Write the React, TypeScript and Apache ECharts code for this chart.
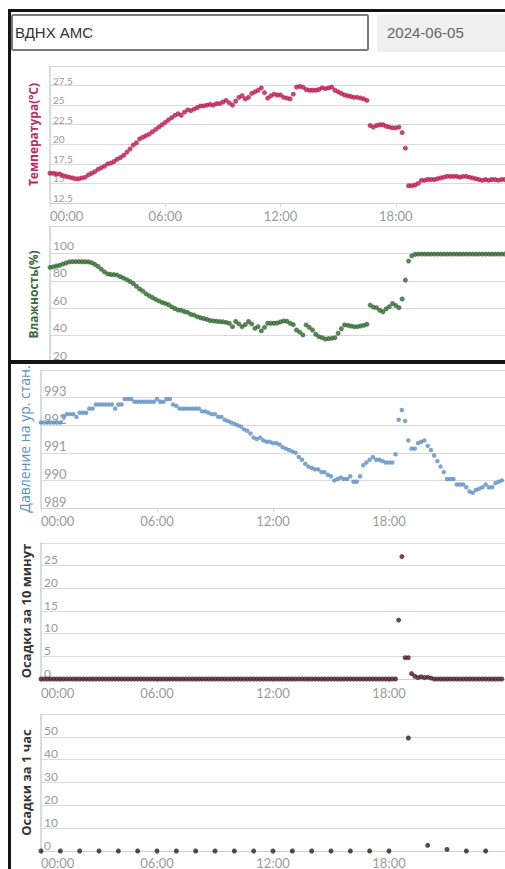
import React, { useEffect, useRef } from "react";
import * as echarts from "echarts";

// ---------- data (10-minute steps, 00:00 .. 23:50) ----------
const timeLabels = ["00:00", "06:00", "12:00", "18:00"];

const temperature = [
  16.3, 16.3, 16.2, 16.2, 16.0, 15.9,
  15.8, 15.7, 15.6, 15.6, 15.7, 15.8,
  16.1, 16.3, 16.5, 16.8, 17.0, 17.2,
  17.5, 17.6, 17.8, 18.1, 18.3, 18.6,
  19.0, 19.4, 19.9, 20.2, 20.7, 20.9,
  21.1, 21.3, 21.6, 21.9, 22.2, 22.5,
  22.8, 23.1, 23.4, 23.7, 23.9, 23.7,
  24.1, 24.4, 24.3, 24.5, 24.7, 24.9,
  24.9, 25.0, 25.1, 25.0, 25.2, 25.2,
  25.4, 25.6, 25.3, 25.0, 25.5, 26.0,
  26.2, 25.8, 26.0, 26.5, 26.7, 26.9,
  27.2, 26.6, 25.9, 26.2, 26.4, 26.3,
  26.3, 26.0, 25.9, 25.8, 26.4, 27.3,
  27.4, 27.3, 27.0, 26.9, 26.9, 26.9,
  27.0, 27.2, 27.1, 27.2, 27.3, 26.9,
  26.7, 26.5, 26.3, 26.2, 26.1, 26.0,
  26.0, 25.9, 25.8, 25.6, 22.4, 22.2,
  22.4, 22.5, 22.5, 22.3, 22.2, 22.1,
  22.1, 22.2, 21.5, 19.5, 14.7, 14.7,
  14.8, 15.0, 15.4, 15.4, 15.5, 15.5,
  15.5, 15.6, 15.7, 15.8, 15.9, 15.9,
  15.9, 15.9, 15.8, 15.9, 15.9, 15.8,
  15.7, 15.6, 15.5, 15.4, 15.5, 15.4,
  15.5, 15.5, 15.4, 15.5, 15.5, 15.5,
];

const humidity = [
  89.8, 90.2, 90.8, 91.3, 92.2, 93.0,
  93.8, 94.0, 94.0, 94.0, 93.9, 93.9,
  93.8, 93.2, 92.0, 90.5, 88.5, 86.5,
  85.0, 84.6, 84.5, 84.2, 83.0, 82.0,
  80.8, 79.5, 78.0, 76.0, 74.0, 72.5,
  70.5, 69.0, 67.8, 66.5, 65.3, 64.2,
  63.5, 62.5, 61.0, 59.8, 58.7, 58.5,
  57.5, 57.0, 55.5, 55.0, 53.8, 53.0,
  52.5, 51.8, 51.0, 50.7, 50.5, 50.2,
  50.0, 49.7, 49.0, 46.5, 50.3, 48.5,
  46.5, 48.0, 50.3, 48.5, 45.3, 46.5,
  43.4, 46.0, 49.0, 49.0, 49.0, 49.2,
  50.0, 50.7, 50.5, 49.0, 48.0, 44.1,
  42.5, 40.5, 47.8, 46.0, 44.1, 41.0,
  39.2, 38.5, 37.5, 37.8, 38.0, 38.5,
  41.7, 45.0, 47.8, 47.5, 47.0, 46.5,
  46.5, 47.0, 47.5, 48.3, 62.3, 60.8,
  60.4, 58.5, 57.4, 59.5, 61.1, 63.5,
  62.0, 60.4, 66.7, 80.5, 94.4, 98.2,
  99.3, 99.5, 99.5, 99.5, 99.5, 99.5,
  99.5, 99.5, 99.5, 99.5, 99.5, 99.5,
  99.5, 99.5, 99.5, 99.5, 99.5, 99.5,
  99.5, 99.5, 99.5, 99.5, 99.5, 99.5,
  99.5, 99.5, 99.5, 99.5, 99.5, 99.5,
];

const pressure = [
  992.1, 992.1, 992.1, 992.1, 992.1, 992.1,
  992.1, 992.3, 992.4, 992.4, 992.4, 992.3,
  992.45, 992.45, 992.45, 992.6, 992.6, 992.75,
  992.75, 992.75, 992.75, 992.75, 992.75, 992.6,
  992.75, 992.75, 992.95, 992.95, 992.95, 992.85,
  992.85, 992.85, 992.85, 992.85, 992.85, 992.85,
  992.95, 992.85, 992.85, 992.95, 992.95, 992.75,
  992.7, 992.6, 992.6, 992.6, 992.6, 992.6,
  992.6, 992.6, 992.5, 992.5, 992.45, 992.4,
  992.4, 992.3, 992.3, 992.2, 992.15, 992.1,
  992.05, 992.0, 991.95, 991.85, 991.8, 991.7,
  991.55, 991.5, 991.55, 991.45, 991.4, 991.4,
  991.35, 991.35, 991.3, 991.2, 991.15, 991.1,
  991.05, 991.0, 990.85, 990.75, 990.6, 990.5,
  990.45, 990.4, 990.4, 990.3, 990.3, 990.2,
  990.15, 990.0, 990.05, 990.1, 990.05, 990.05,
  990.15, 989.95, 989.95, 990.15, 990.55, 990.65,
  990.75, 990.85, 990.75, 990.75, 990.7, 990.65,
  990.65, 990.65, 990.95, 992.2, 992.55, 992.15,
  991.45, 991.15, 991.15, 991.35, 991.4, 991.45,
  991.25, 991.1, 990.9, 990.7, 990.5, 990.3,
  990.05, 990.05, 990.05, 989.85, 989.85, 989.85,
  989.75, 989.6, 989.55, 989.65, 989.7, 989.75,
  989.85, 989.75, 989.75, 989.9, 989.95, 990.0,
];

const precip10 = [
  0, 0, 0, 0, 0, 0,
  0, 0, 0, 0, 0, 0,
  0, 0, 0, 0, 0, 0,
  0, 0, 0, 0, 0, 0,
  0, 0, 0, 0, 0, 0,
  0, 0, 0, 0, 0, 0,
  0, 0, 0, 0, 0, 0,
  0, 0, 0, 0, 0, 0,
  0, 0, 0, 0, 0, 0,
  0, 0, 0, 0, 0, 0,
  0, 0, 0, 0, 0, 0,
  0, 0, 0, 0, 0, 0,
  0, 0, 0, 0, 0, 0,
  0, 0, 0, 0, 0, 0,
  0, 0, 0, 0, 0, 0,
  0, 0, 0, 0, 0, 0,
  0, 0, 0, 0, 0, 0,
  0, 0, 0, 0, 0, 0,
  0, 0, 0, 13, 27, 4.7,
  4.7, 1.2, 0.6, 0.3, 0.5, 0.3,
  0.4, 0.2, 0, 0, 0, 0,
  0, 0, 0, 0, 0, 0,
  0, 0, 0, 0, 0, 0,
  0, 0, 0, 0, 0, 0,
];

// hourly, 00:00 .. 23:00
const precip1h = [
  0, 0, 0, 0, 0, 0, 0, 0, 0, 0, 0, 0,
  0, 0, 0, 0, 0, 0, 0, 49.5, 2.5, 0.7, 0, 0,
];

// ---------- helpers ----------
const LABEL_FONT = "Lato, 'Open Sans', sans-serif";
const NAME_FONT = "'Open Sans', 'Noto Sans', sans-serif";

function xAxis(gridIndex: number, margin: number, showLabels = true, lineHeight?: number) {
  return {
    type: "value",
    gridIndex,
    min: 0,
    max: 24,
    interval: 6,
    axisLine: { show: true, lineStyle: { color: "#cfcfcf", width: 1 } },
    axisTick: { show: true, length: 4, lineStyle: { color: "#d6d6d6" } },
    splitLine: { show: false },
    axisLabel: {
      show: showLabels,
      color: "#9b9b9b",
      fontSize: 13,
      fontFamily: LABEL_FONT,
      lineHeight,
      margin,
      showMaxLabel: false,
      alignMinLabel: "left",
      formatter: (v: number) => timeLabels[Math.round(v / 6)] ?? "",
    },
  };
}

function yAxis(
  gridIndex: number,
  min: number,
  max: number,
  interval: number,
  name: string,
  nameColor: string,
  nameSize: number,
  nameWeight: string,
  nameGap: number,
  labelSize: number,
  labelLift = 0
) {
  return {
    type: "value",
    gridIndex,
    min,
    max,
    interval,
    name,
    nameLocation: "middle",
    nameGap,
    nameTextStyle: {
      color: nameColor,
      fontSize: nameSize,
      fontWeight: nameWeight,
      fontFamily: NAME_FONT,
    },
    axisLine: { show: true, lineStyle: { color: "#c3d3e0", width: 1.5 } },
    axisTick: { show: false },
    splitLine: { show: true, lineStyle: { color: "#dadada", width: 1 } },
    axisLabel: {
      inside: true,
      color: "#9a9a9a",
      fontSize: labelSize,
      fontFamily: LABEL_FONT,
      verticalAlign: "bottom",
      padding: [0, 0, labelLift, 0],
      margin: 3,
      showMaxLabel: false,
    },
  };
}

function dots(xi: number, values: number[], step: number, color: string, size: number) {
  return {
    type: "scatter",
    xAxisIndex: xi,
    yAxisIndex: xi,
    symbol: "circle",
    symbolSize: size,
    silent: true,
    itemStyle: { color },
    data: values.map((v, i) => [i * step, v]),
  };
}

function useChart(option: any) {
  const ref = useRef<HTMLDivElement | null>(null);
  useEffect(() => {
    if (!ref.current) return;
    const chart = echarts.init(ref.current, undefined, { renderer: "svg" });
    chart.setOption(option);
    return () => chart.dispose();
  }, []);
  return ref;
}

export default function App() {
  const optA = {
    animation: false,
    backgroundColor: "transparent",
    grid: [
      { left: 50, top: 66, width: 461, height: 137, outerBoundsMode: "none" },
      { left: 50, top: 226, width: 461, height: 137, outerBoundsMode: "none" },
    ],
    xAxis: [xAxis(0, 6), xAxis(1, 6, false)],
    yAxis: [
      yAxis(0, 12.5, 30, 2.5, "Температура(°C)", "#c0285a", 12, "bold", 11, 10),
      yAxis(1, 20, 120, 20, "Влажность(%)", "#3b6a3b", 12, "bold", 11, 12, 2),
    ],
    series: [
      dots(0, temperature, 1 / 6, "#bb1650", 5),
      dots(1, humidity, 1 / 6, "#2f6630", 5),
    ],
  };

  const optB = {
    animation: false,
    backgroundColor: "transparent",
    grid: [
      { left: 41, top: 370, width: 464, height: 138, outerBoundsMode: "none" },
      { left: 41, top: 543, width: 464, height: 136, outerBoundsMode: "none" },
      { left: 41, top: 714, width: 464, height: 137, outerBoundsMode: "none" },
    ],
    xAxis: [xAxis(0, 6), xAxis(1, 7), xAxis(2, 5, true, 13)],
    yAxis: [
      yAxis(0, 989, 994, 1, "Давление на ур. стан.", "#5b8fc6", 14, "normal", 10, 13),
      yAxis(1, 0, 30, 5, "Осадки за 10 минут", "#333333", 13, "bold", 9, 12),
      yAxis(2, 0, 60, 10, "Осадки за 1 час", "#333333", 13, "bold", 9, 12),
    ],
    series: [
      dots(0, pressure, 1 / 6, "#5d8fc4", 4.5),
      dots(1, precip10, 1 / 6, "#4a1c26", 5),
      dots(2, precip1h, 1, "#222222", 5),
    ],
  };

  const refA = useChart(optA);
  const refB = useChart(optB);

  const bar = (style: React.CSSProperties) => (
    <div style={{ position: "absolute", background: "#141414", zIndex: 5, ...style }} />
  );

  return (
    <div
      style={{
        position: "fixed",
        left: 0,
        top: 0,
        width: 505,
        height: 869,
        overflow: "hidden",
        background: "#ffffff",
      }}
    >
      {/* section 1: temperature + humidity (bottom hidden under frame) */}
      <div style={{ position: "absolute", left: 0, top: 0, width: 505, height: 364, overflow: "hidden" }}>
        <div ref={refA} style={{ position: "absolute", left: 0, top: 0, width: 520, height: 400 }} />
      </div>
      {/* section 2: pressure + precipitation */}
      <div style={{ position: "absolute", left: 0, top: 364, width: 505, height: 505, overflow: "hidden" }}>
        <div ref={refB} style={{ position: "absolute", left: 0, top: -364, width: 505, height: 880 }} />
      </div>

      {/* frame */}
      {bar({ left: 8, top: 9, width: 497, height: 3 })}
      {bar({ left: 8, top: 9, width: 3, height: 860 })}
      {bar({ left: 8, top: 360, width: 497, height: 4 })}

      {/* header controls */}
      <div
        style={{
          position: "absolute",
          left: 11,
          top: 14,
          width: 352,
          height: 33,
          border: "2px solid #7a7a7a",
          borderRadius: 2,
          boxSizing: "content-box",
          fontFamily: "'Liberation Sans', Arial, sans-serif",
          fontSize: 15,
          color: "#333",
          lineHeight: "33px",
          paddingLeft: 2,
          zIndex: 4,
          background: "#fff",
        }}
      >
        ВДНХ АМС
      </div>
      <div
        style={{
          position: "absolute",
          left: 377,
          top: 14,
          width: 140,
          height: 38,
          background: "#efefef",
          fontFamily: "'Liberation Sans', Arial, sans-serif",
          fontSize: 15,
          color: "#666",
          lineHeight: "37px",
          paddingLeft: 10,
          boxSizing: "border-box",
          zIndex: 4,
        }}
      >
        2024-06-05
      </div>
    </div>
  );
}
